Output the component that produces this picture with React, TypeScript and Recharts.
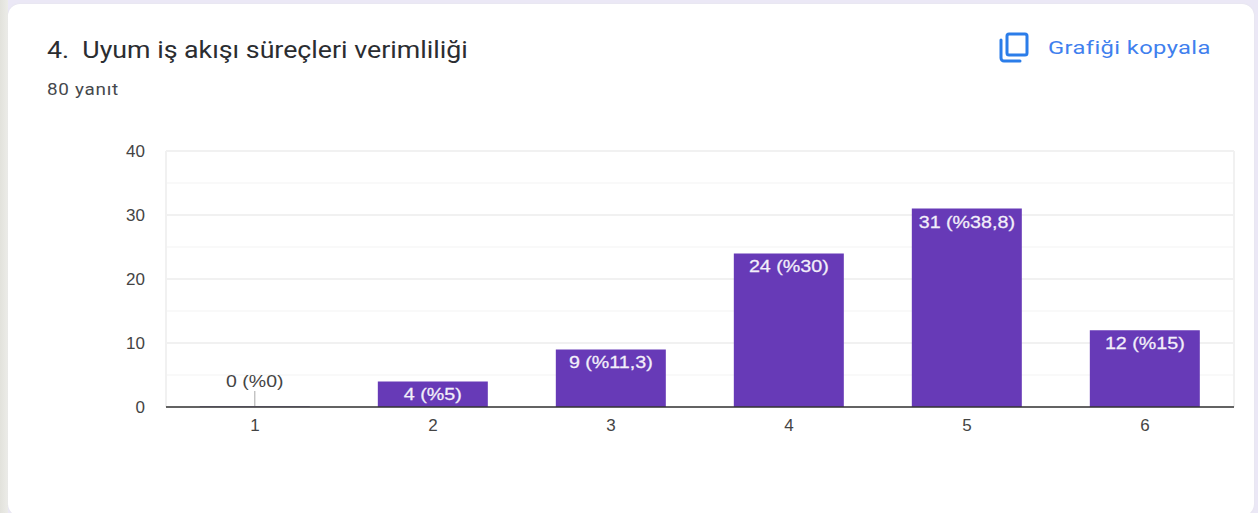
import { BarChart, Bar, XAxis, YAxis, CartesianGrid, LabelList, Cell } from 'recharts';

const categories = ['1', '2', '3', '4', '5', '6'];
const counts = [0, 4, 9, 24, 31, 12];
const valueLabels = ['0 (%0)', '4 (%5)', '9 (%11,3)', '24 (%30)', '31 (%38,8)', '12 (%15)'];
const majorTicks = [0, 10, 20, 30, 40];
const minorTicks = [5, 15, 25, 35];

const chartData = categories.map((name, i) => ({ name, count: counts[i], label: valueLabels[i] }));

const PURPLE = '#673ab7';
const FONT = '"Liberation Sans", Arial, sans-serif';

function BarLabel({ x, y, width, index }: any) {
  const cx = x + width / 2;
  const text = valueLabels[index];
  // empty bars get their label above with a small stem, like the Forms chart
  if (counts[index] === 0) {
    return (
      <g>
        <line x1={cx} x2={cx} y1={y - 15} y2={y} stroke="#a8a8a8" strokeWidth={1} />
        <text transform={`translate(${cx},${y - 19}) scale(1.22,1)`} textAnchor="middle" fontFamily={FONT} fontSize={16} fill="#444">
          {text}
        </text>
      </g>
    );
  }
  return (
    <text transform={`translate(${cx},${y + 19}) scale(1.23,1)`} textAnchor="middle" fontFamily={FONT} fontSize={16} fill="#f3effa" stroke="#f3effa" strokeWidth={0.25}>
      {text}
    </text>
  );
}

function Header() {
  return (
    <>
      <div style={{ position: 'absolute', left: 47, top: 35, fontFamily: 'Roboto', fontSize: 24, lineHeight: '30px', color: '#2b2d31', whiteSpace: 'pre', transformOrigin: 'left top', transform: 'scaleX(1.114)' }}>
        4.  Uyum iş akışı süreçleri verimliliği
      </div>
      <div style={{ position: 'absolute', left: 47, top: 80, fontFamily: 'Roboto', fontSize: 16, lineHeight: '20px', letterSpacing: 0.6, color: '#45484c', whiteSpace: 'pre', transformOrigin: 'left top', transform: 'scaleX(1.18)' }}>
        80 yanıt
      </div>
      <svg style={{ position: 'absolute', left: 999, top: 32 }} width={30} height={31} viewBox="0 0 30 31" fill="none" stroke="#2b7de9" strokeWidth={3}>
        <rect x={8} y={2} width={20} height={21} rx={2} />
        <path d="M2 8 V26 a3 3 0 0 0 3 3 H21" strokeLinecap="round" />
      </svg>
      <div style={{ position: 'absolute', left: 1048, top: 36, fontFamily: 'Roboto', fontSize: 19, fontWeight: 400, lineHeight: '24px', letterSpacing: 0.3, color: '#3f80ee', whiteSpace: 'pre', transformOrigin: 'left top', transform: 'scaleX(1.25)' }}>
        Grafiği kopyala
      </div>
    </>
  );
}

export default function App() {
  return (
    <div style={{ position: 'absolute', left: 0, top: 0, width: 1258, height: 513, overflow: 'hidden', background: 'linear-gradient(to right, #e2e2dc 0, #ecece8 8px, #ebe8f6 8px)' }}>
      <style>{'html,body{margin:0}'}</style>
      <div style={{ position: 'absolute', left: 8, top: 4, width: 1246, height: 512, background: '#fff', borderRadius: 12, boxShadow: '0 0 2px #e2e2e6' }} />
      <Header />
      <div style={{ position: 'absolute', left: 0, top: 0 }}>
        <BarChart width={1258} height={513} data={chartData} margin={{ top: 151, right: 24, bottom: 76, left: 116 }} barCategoryGap="19%">
          <CartesianGrid
            stroke="#f7f7f7"
            strokeWidth={1.5}
            vertical={false}
            horizontalValues={minorTicks}
          />
          <CartesianGrid
            stroke="#f1f1f1"
            strokeWidth={2}
            horizontalValues={majorTicks}
            verticalCoordinatesGenerator={({ offset }: any) => [offset.left, offset.left + offset.width]}
          />
          <XAxis
            dataKey="name"
            height={30}
            tickLine={false}
            axisLine={{ stroke: '#333', strokeWidth: 1.5 }}
            tickSize={0}
            tickMargin={12}
            tick={{ fill: '#444', fontSize: 17, fontFamily: FONT }}
          />
          <YAxis
            width={50}
            domain={[0, 40]}
            ticks={majorTicks}
            tickLine={false}
            axisLine={false}
            tickSize={0}
            tickMargin={21}
            tick={{ fill: '#444', fontSize: 17, fontFamily: FONT }}
          />
          <Bar dataKey="count" fill={PURPLE} minPointSize={1} isAnimationActive={false}>
            {chartData.map((d) => (
              <Cell key={d.name} fill={d.count === 0 ? '#a79cc8' : PURPLE} />
            ))}
            <LabelList dataKey="label" content={BarLabel} />
          </Bar>
        </BarChart>
      </div>
    </div>
  );
}
